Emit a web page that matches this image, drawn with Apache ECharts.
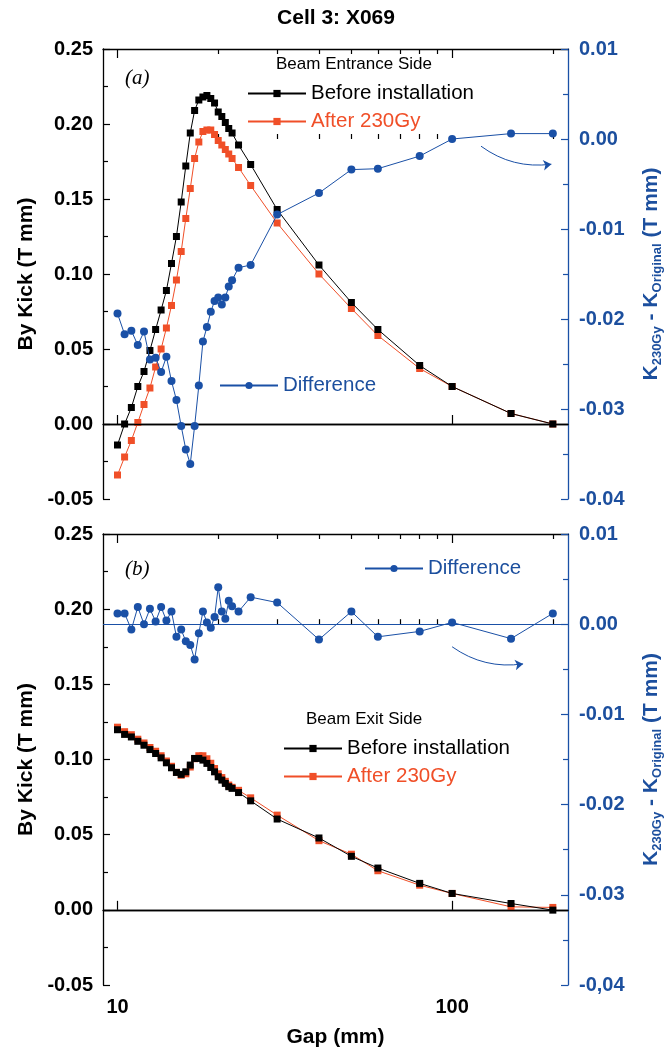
<!DOCTYPE html>
<html>
<head>
<meta charset="utf-8">
<script src="https://cdn.jsdelivr.net/npm/echarts@6/dist/echarts.min.js"></script>
<style>
html,body{margin:0;padding:0;background:#fff;}
#chart{width:672px;height:1049px;}
</style>
</head>
<body>
<div id="chart"></div>
<script>
// ---------- data ----------
const gaps = [10,10.5,11,11.5,12,12.5,13,13.5,14,14.5,15,15.5,16,16.5,17,17.5,18,18.5,19,19.5,20,20.5,21,21.5,22,23,25,30,40,50,60,80,100,150,200];

// panel (a) - Beam Entrance Side
const beforeA = [-0.014,0.000,0.011,0.025,0.035,0.049,0.063,0.076,0.089,0.107,0.125,0.148,0.172,0.194,0.209,0.216,0.218,0.219,0.217,0.214,0.208,0.205,0.201,0.197,0.194,0.186,0.173,0.143,0.106,0.081,0.063,0.039,0.025,0.007,0.000];
const afterA  = [-0.034,-0.022,-0.011,0.001,0.013,0.024,0.038,0.050,0.064,0.079,0.096,0.115,0.137,0.157,0.177,0.188,0.195,0.196,0.196,0.193,0.189,0.186,0.183,0.180,0.177,0.171,0.159,0.134,0.100,0.077,0.059,0.037,0.025,0.007,0.000];
const diffA   = [-0.0194,-0.0217,-0.0213,-0.0229,-0.0214,-0.0245,-0.0243,-0.0259,-0.0242,-0.0269,-0.0290,-0.0319,-0.0345,-0.0361,-0.0319,-0.0274,-0.0225,-0.0209,-0.0192,-0.0180,-0.0176,-0.0184,-0.0176,-0.0164,-0.0157,-0.0143,-0.0140,-0.0084,-0.0060,-0.0034,-0.0033,-0.0019,0.0000,0.0006,0.0006];

// panel (b) - Beam Exit Side
const beforeB = [0.1198,0.1167,0.1150,0.1121,0.1095,0.1066,0.1040,0.1011,0.0978,0.0945,0.0914,0.0901,0.0918,0.0963,0.1007,0.1007,0.0996,0.0974,0.0947,0.0918,0.0885,0.0863,0.0841,0.0819,0.0808,0.0780,0.0725,0.0604,0.0478,0.0356,0.0278,0.0176,0.0109,0.0042,-0.0002];
const afterB  = [0.1215,0.1185,0.1165,0.1135,0.1110,0.1080,0.1055,0.1025,0.0990,0.0955,0.0915,0.0895,0.0905,0.0950,0.1005,0.1025,0.1025,0.1005,0.0975,0.0940,0.0905,0.0880,0.0855,0.0830,0.0815,0.0795,0.0745,0.0630,0.0460,0.0370,0.0260,0.0164,0.0109,0.0020,0.0016];
const diffB   = [0.0012,0.0012,-0.0006,0.0019,0.0000,0.0017,0.0003,0.0019,0.0004,0.0014,-0.0014,-0.0006,-0.0019,-0.0023,-0.0039,-0.0010,0.0014,0.0002,-0.0004,0.0008,0.0041,0.0014,0.0006,0.0026,0.0020,0.0014,0.0030,0.0024,-0.0017,0.0014,-0.0014,-0.0008,0.0002,-0.0016,0.0012];

// axis ticks
const xMajorTicks = [10, 100];
const xMinorTicks = [20, 30, 40, 50, 60, 70, 80, 90, 200];
const xLabels = [10, 100];

// annotation arrows (gap, right-axis value)
const arrowA = [[122, -0.0008], [198, -0.0028]];
const arrowB = [[100, -0.0025], [163, -0.0044]];

// ---------- styles ----------
const BLUE = '#1a50a6';
const BLUE_TXT = '#1c4f9e';
const RED = '#f04f28';
const FONT = 'Liberation Sans, Arial, sans-serif';
const X_MIN = 9.05, X_MAX = 222;

function zip(xs, ys){ return xs.map((x,i)=>[x, ys[i]]); }

const grids = [
  {left:103, right:96, top:49, height:450},
  {left:103, right:96, top:534, height:451}
];

function xAxes(gi, withLabels){
  const base = {gridIndex:gi, type:'log', logBase:10, min:X_MIN, max:X_MAX, splitLine:{show:false},
    axisLine:{show:true, lineStyle:{color:'#000', width:1.3}}, axisLabel:{show:false}};
  const arr = [];
  ['bottom','top'].forEach(pos=>{
    arr.push(Object.assign({}, base, {position:pos,
      axisTick:{show:true, inside:true, length:9, customValues:xMajorTicks, lineStyle:{color:'#000', width:1.2}},
      axisLabel: (withLabels && pos==='bottom') ? {show:true, customValues:xLabels, margin:12,
          color:'#000', fontSize:20, fontWeight:'bold', fontFamily:FONT, formatter:v=>String(Math.round(v))} : {show:false},
      name: (withLabels && pos==='bottom') ? 'Gap (mm)' : '',
      nameLocation:'middle', nameGap:42,
      nameTextStyle:{color:'#000', fontSize:21, fontWeight:'bold', fontFamily:FONT}
    }));
    arr.push(Object.assign({}, base, {position:pos, axisLine:{show:false},
      axisTick:{show:true, inside:true, length:5, customValues:xMinorTicks, lineStyle:{color:'#000', width:1.2}}}));
  });
  return arr;
}

function leftY(gi){
  return {gridIndex:gi, type:'value', position:'left', min:-0.05, max:0.25, interval:0.05,
    axisLine:{show:true, lineStyle:{color:'#000', width:1.3}},
    axisTick:{show:true, inside:true, length:7, lineStyle:{color:'#000', width:1.2}},
    minorTick:{show:true, splitNumber:2, length:5, lineStyle:{color:'#000', width:1.2}},
    splitLine:{show:false},
    axisLabel:{color:'#000', fontSize:20, fontWeight:'bold', fontFamily:FONT, margin:10, formatter:v=>v.toFixed(2)},
    name:'By Kick (T mm)', nameLocation:'middle', nameGap:63, nameRotate:90,
    nameTextStyle:{color:'#000', fontSize:21, fontWeight:'bold', fontFamily:FONT}};
}

function rightY(gi, comma){
  return {gridIndex:gi, type:'value', position:'right', min:-0.04, max:0.01, interval:0.01,
    axisLine:{show:true, lineStyle:{color:BLUE, width:1.3}},
    axisTick:{show:true, inside:true, length:7, lineStyle:{color:BLUE, width:1.2}},
    minorTick:{show:true, splitNumber:2, length:5, lineStyle:{color:BLUE, width:1.2}},
    splitLine:{show:false},
    axisLabel:{color:BLUE_TXT, fontSize:20, fontWeight:'bold', fontFamily:FONT, margin:11,
      formatter:v=>{ const s = (Math.abs(v) < 1e-9 ? 0 : v).toFixed(2); return (comma && Math.abs(v+0.04)<1e-9) ? s.replace('.', ',') : s; }},
    name:'{k|K}{s|230Gy}{k| - K}{s|Original}{k| (T mm)}', nameLocation:'middle', nameGap:70, nameRotate:90,
    nameTextStyle:{color:BLUE_TXT, fontWeight:'bold', fontFamily:FONT,
      rich:{
        k:{fontSize:21, fontWeight:'bold', color:BLUE_TXT, fontFamily:FONT, lineHeight:26, verticalAlign:'middle'},
        s:{fontSize:13, fontWeight:'bold', color:BLUE_TXT, fontFamily:FONT, lineHeight:26, verticalAlign:'bottom'}
      }}};
}

function lineSeries(name, xi, yi, data, color, symbol, size, z, extra){
  return Object.assign({type:'line', name, xAxisIndex:xi, yAxisIndex:yi, data,
    symbol, symbolSize:size, showSymbol:true, animation:false, z,
    lineStyle:{color, width:1}, itemStyle:{color, borderWidth:0}, emphasis:{disabled:true}}, extra||{});
}

function zeroLine(color, width){
  return {silent:true, symbol:'none', animation:false, label:{show:false},
    lineStyle:{color, width, type:'solid'}, emphasis:{disabled:true}, data:[{yAxis:0}]};
}

const series = [
  // panel a (x axis 0, left y 0, right y 1)
  lineSeries('After 230Gy', 0, 0, zip(gaps, afterA), RED, 'rect', 7, 3),
  lineSeries('Before installation', 0, 0, zip(gaps, beforeA), '#000', 'rect', 7, 4, {markLine: zeroLine('#000', 1.3)}),
  lineSeries('Difference', 0, 1, zip(gaps, diffA), BLUE, 'circle', 8, 5),
  {type:'lines', coordinateSystem:'cartesian2d', xAxisIndex:0, yAxisIndex:1, polyline:false, silent:true, animation:false,
    symbol:['none','arrow'], symbolSize:8, lineStyle:{color:BLUE, width:1, curveness:-0.2, opacity:1},
    data:[{coords:arrowA}]},
  // panel b (x axis 4, left y 2, right y 3)
  lineSeries('After 230Gy', 4, 2, zip(gaps, afterB), RED, 'rect', 7, 3),
  lineSeries('Before installation', 4, 2, zip(gaps, beforeB), '#000', 'rect', 7, 4, {markLine: zeroLine('#000', 1.3)}),
  lineSeries('Difference', 4, 3, zip(gaps, diffB), BLUE, 'circle', 8, 5, {markLine: zeroLine(BLUE, 1)}),
  {type:'lines', coordinateSystem:'cartesian2d', xAxisIndex:4, yAxisIndex:3, polyline:false, silent:true, animation:false,
    symbol:['none','arrow'], symbolSize:8, lineStyle:{color:BLUE, width:1, curveness:-0.2, opacity:1},
    data:[{coords:arrowB}]}
];

const legendText = {fontSize:20.5, fontFamily:FONT, color:'#000'};
function legend(left, top, names){
  return {left, top, orient:'vertical', itemWidth:58, itemHeight:9, itemGap:7, padding:0,
    selectedMode:false, textStyle:legendText,
    data:names.map(n=>({name:n, textStyle:{color: n==='After 230Gy' ? RED : (n==='Difference' ? BLUE_TXT : '#000')}}))};
}

const option = {
  backgroundColor:'#fff',
  animation:false,
  title:[
    {text:'Cell 3: X069', left:'center', top:3, textStyle:{fontSize:21, fontWeight:'bold', fontFamily:FONT, color:'#000'}},
    {text:'Beam Entrance Side', left:271, top:51, textStyle:{fontSize:17, fontWeight:'normal', fontFamily:FONT, color:'#000'}},
    {text:'(a)', left:120, top:63, textStyle:{fontSize:21, fontWeight:'normal', fontStyle:'italic', fontFamily:'Liberation Serif, serif', color:'#000'}},
    {text:'(b)', left:120, top:554, textStyle:{fontSize:21, fontWeight:'normal', fontStyle:'italic', fontFamily:'Liberation Serif, serif', color:'#000'}},
    {text:'Beam Exit Side', left:301, top:706, textStyle:{fontSize:17, fontWeight:'normal', fontFamily:FONT, color:'#000'}}
  ],
  legend:[
    legend(247, 83, ['Before installation','After 230Gy']),
    legend(219, 375, ['Difference']),
    legend(364, 558, ['Difference']),
    legend(283, 738, ['Before installation','After 230Gy'])
  ],
  grid:grids,
  xAxis:[].concat(xAxes(0,false), xAxes(1,true)),
  yAxis:[leftY(0), rightY(0,false), leftY(1), rightY(1,true)],
  series
};

const chart = echarts.init(document.getElementById('chart'), null, {renderer:'canvas'});
chart.setOption(option);
</script>
</body>
</html>
